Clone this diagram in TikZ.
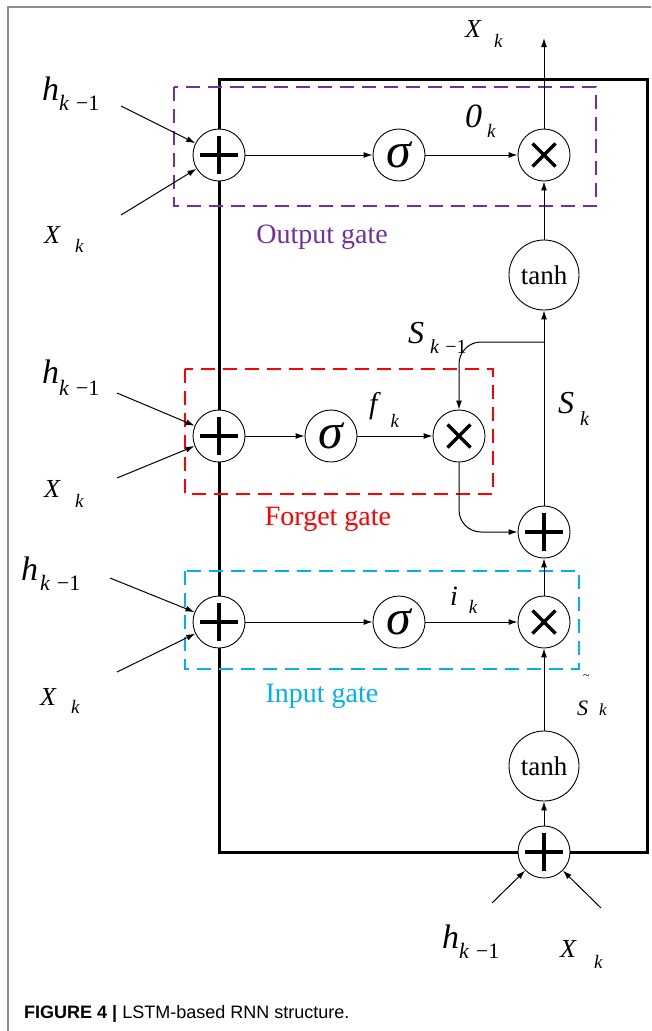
\documentclass[tikz,border=0pt]{standalone}
\usepackage{fontspec}
\setmainfont{Liberation Serif}
\newfontfamily\capfont{Liberation Sans}
\usetikzlibrary{arrows.meta}
\definecolor{gpurple}{HTML}{7030A0}
\definecolor{gred}{HTML}{FF0000}
\definecolor{gblue}{HTML}{00B0F0}
\definecolor{framegray}{HTML}{8C8C8C}
% #1 main size, #2 main, #3 sub size, #4 sub, #5 gap, #6 drop
\newcommand\mylab[6]{{\fontsize{#1}{#1}\selectfont\itshape #2}\hspace{#5}\raisebox{-#6}{\fontsize{#3}{#3}\selectfont #4}}
\newcommand\kmo{\textit{k}\hspace{0.3em}−1}
\begin{document}
\begin{tikzpicture}[x=1pt,y=-1pt,
  arr/.style={line width=1pt,-{Latex[length=9pt,width=6pt]}},
  opnode/.style={circle,draw,line width=0.9pt,fill=white,minimum size=52pt,inner sep=0pt},
  plusnode/.style={opnode,path picture={
      \draw[line width=3.5pt] ([xshift=-19pt]path picture bounding box.center) -- ([xshift=19pt]path picture bounding box.center);
      \draw[line width=3.5pt] ([yshift=-19pt]path picture bounding box.center) -- ([yshift=19pt]path picture bounding box.center);}},
  timesnode/.style={opnode,path picture={
      \draw[line width=3.5pt] ([shift={(-11.5pt,-11.5pt)}]path picture bounding box.center) -- ([shift={(11.5pt,11.5pt)}]path picture bounding box.center);
      \draw[line width=3.5pt] ([shift={(-11.5pt,11.5pt)}]path picture bounding box.center) -- ([shift={(11.5pt,-11.5pt)}]path picture bounding box.center);}},
  signode/.style={opnode,font=\fontsize{50}{50}\selectfont\itshape},
  tanhnode/.style={opnode,minimum size=70pt,font=\fontsize{27}{27}\selectfont},
  lab/.style={anchor=base west,inner sep=0pt},
  gatebox/.style={line width=2.5pt,dash pattern=on 14pt off 8pt},
  gatetext/.style={anchor=base,inner sep=0pt,font=\fontsize{28}{28}\selectfont}
]
\useasboundingbox (0,0) rectangle (651,1031);
% outer grey frame
\draw[framegray,line width=1.5pt] (8,1031) -- (8,7) -- (651,7);
% main box
\draw[line width=3pt] (219,79) rectangle (647,852);
% gate boxes
\draw[gatebox,gpurple] (174,87) rectangle (596,206);
\draw[gatebox,gred] (185,369) rectangle (493,494);
\draw[gatebox,gblue] (185,571) rectangle (579,669);
\node[gatetext,gpurple] (tO) at (322,243) {Output gate};
\node[gatetext,gred] (tF) at (328,525) {Forget gate};
\node[gatetext,gblue] (tI) at (322,702) {Input gate};

% nodes
\node[plusnode] (pO) at (219,155) {};
\node[signode] (sO) at (399,155) {σ};
\node[timesnode] (xO) at (544,155) {};
\node[tanhnode] (thU) at (544,275) {tanh};

\node[plusnode] (pF) at (219,436) {};
\node[signode] (sF) at (331,436) {σ};
\node[timesnode] (xF) at (459,436) {};
\node[plusnode] (sum) at (544,532) {};

\node[plusnode] (pI) at (219,622) {};
\node[signode] (sI) at (399,622) {σ};
\node[timesnode] (xI) at (544,622) {};
\node[tanhnode] (thL) at (544,766) {tanh};
\node[plusnode] (pB) at (544,852) {};

% input coordinates
\coordinate (hO) at (121,106);
\coordinate (xOi) at (121,215);
\coordinate (hF) at (117,393);
\coordinate (xFi) at (117,478);
\coordinate (hI) at (110,578);
\coordinate (xIi) at (117,672);
\coordinate (hB) at (492,903);
\coordinate (xBi) at (601,908);
\coordinate (top) at (544,38);
\coordinate (br) at (544,342);

% connectors
\draw[arr] (hO) -- (pO);
\draw[arr] (xOi) -- (pO);
\draw[arr] (pO) -- (sO);
\draw[arr] (sO) -- (xO);
\draw[arr] (xO) -- (top);
\draw[arr] (thU) -- (xO);

\draw[arr] (hF) -- (pF);
\draw[arr] (xFi) -- (pF);
\draw[arr] (pF) -- (sF);
\draw[arr] (sF) -- (xF);
\draw[arr] (sum) -- (thU);
\draw[arr,rounded corners=22pt] (br) -| (xF.north);
\draw[arr,rounded corners=22pt] (xF.south) |- (sum.west);

\draw[arr] (hI) -- (pI);
\draw[arr] (xIi) -- (pI);
\draw[arr] (pI) -- (sI);
\draw[arr] (sI) -- (xI);
\draw[arr] (xI) -- (sum);
\draw[arr] (thL) -- (xI);
\draw[arr] (pB) -- (thL);
\draw[arr] (hB) -- (pB);
\draw[arr] (xBi) -- (pB);

% labels
\node[lab] (lXtop) at (465,37) {\mylab{26}{X}{19}{\textit{k}}{13pt}{10pt}};
\node[lab] (lhO) at (42,100) {\mylab{34}{h}{22}{\kmo}{0pt}{10pt}};
\node[lab] (lxO) at (44,243) {\mylab{26}{X}{19}{\textit{k}}{15pt}{9pt}};
\node[lab] (lo) at (465,127) {\mylab{34}{0}{19}{\textit{k}}{5pt}{10pt}};

\node[lab] (lhF) at (42,383) {\mylab{34}{h}{22}{\kmo}{0pt}{12pt}};
\node[lab] (lxF) at (44,497) {\mylab{26}{X}{19}{\textit{k}}{15pt}{10pt}};
\node[lab] (lf) at (369,413) {\mylab{30}{f}{19}{\textit{k}}{13pt}{14pt}};
\node[lab] (lS1) at (408,343) {\mylab{32}{S}{20}{\kmo}{6pt}{10pt}};
\node[lab] (lSk) at (558,413) {\mylab{32}{S}{20}{\textit{k}}{6pt}{12pt}};

\node[lab] (lhI) at (21,580) {\mylab{34}{h}{22}{\kmo}{2pt}{10pt}};
\node[lab] (lxI) at (40,705) {\mylab{26}{X}{19}{\textit{k}}{15pt}{8pt}};
\node[lab] (li) at (450,605) {\mylab{28}{i}{19}{\textit{k}}{11pt}{8pt}};
\node[lab] (lSt) at (577,715) {\makebox[0pt][l]{\hspace{6pt}\raisebox{36pt}{\fontsize{12}{12}\selectfont\textasciitilde}}\mylab{22}{S}{17}{\textit{k}}{11pt}{0pt}};

\node[lab] (lhB) at (442,948) {\mylab{34}{h}{22}{\kmo}{0pt}{10pt}};
\node[lab] (lxB) at (560,957) {\mylab{26}{X}{19}{\textit{k}}{18pt}{11pt}};

% caption
\node[lab,font=\capfont\fontsize{18}{18}\selectfont] (cap) at (24,1018) {\textbf{FIGURE 4 |} LSTM-based RNN structure.};
\end{tikzpicture}
\end{document}
